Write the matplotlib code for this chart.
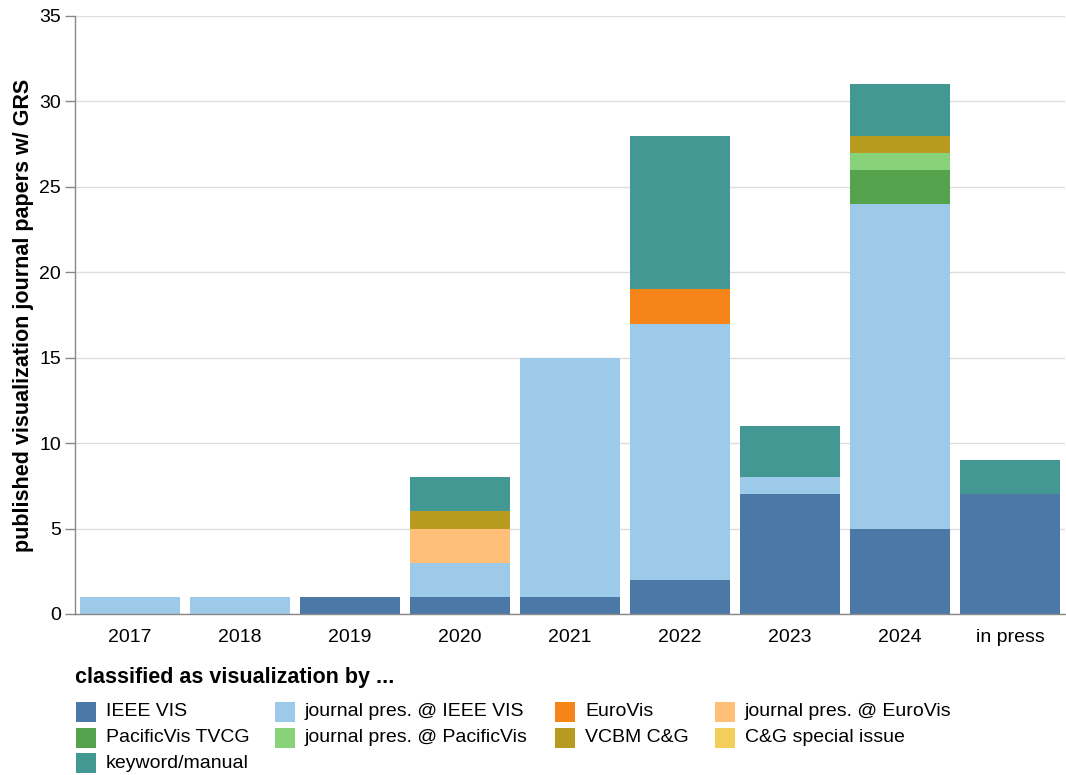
from matplotlib import pyplot as plt
from matplotlib.patches import Rectangle
import numpy as np

plt.rcParams['font.family'] = ['Liberation Sans', 'DejaVu Sans']

years = ['2017', '2018', '2019', '2020', '2021', '2022', '2023', '2024', 'in press']

categories = ['IEEE VIS', 'journal pres. @ IEEE VIS', 'EuroVis',
              'journal pres. @ EuroVis', 'PacificVis TVCG',
              'journal pres. @ PacificVis', 'VCBM C&G', 'C&G special issue',
              'keyword/manual']

ieee_vis = [0, 0, 1, 1, 1, 2, 7, 5, 7]
jp_ieee_vis = [1, 1, 0, 2, 14, 15, 1, 19, 0]
eurovis = [0, 0, 0, 0, 0, 2, 0, 0, 0]
jp_eurovis = [0, 0, 0, 2, 0, 0, 0, 0, 0]
pacificvis_tvcg = [0, 0, 0, 0, 0, 0, 0, 2, 0]
jp_pacificvis = [0, 0, 0, 0, 0, 0, 0, 1, 0]
vcbm_cg = [0, 0, 0, 1, 0, 0, 0, 1, 0]
cg_special = [0, 0, 0, 0, 0, 0, 0, 0, 0]
keyword_manual = [0, 0, 0, 2, 0, 9, 3, 3, 2]

series = [ieee_vis, jp_ieee_vis, eurovis, jp_eurovis, pacificvis_tvcg,
          jp_pacificvis, vcbm_cg, cg_special, keyword_manual]

colors = ['#4c78a8', '#9ecae9', '#f58518', '#ffbf79', '#54a24b',
          '#88d27a', '#b79a20', '#f2cf5b', '#439894']

W, H = 1066, 775


def fx(px):
    return px / W


def fy(py):
    return 1.0 - py / H


fig = plt.figure(figsize=(W / 100, H / 100), dpi=100)
ax = fig.add_axes([fx(75), fy(614), (1065 - 75) / W, (614 - 16) / H])

x = np.arange(len(years))
bottom = np.zeros(len(years))
for vals, col, name in zip(series, colors, categories):
    vals = np.array(vals, dtype=float)
    ax.bar(x, vals, bottom=bottom, width=100 / 110, color=col,
           label=name, zorder=2, linewidth=0)
    bottom += vals

ax.set_xlim(-0.5, len(years) - 0.5)
ax.set_ylim(0, 35)
ax.set_yticks(np.arange(0, 36, 5))
ax.set_xticks(x)
ax.set_xticklabels(years)
ax.grid(axis='y', color='#dddddd', linewidth=1.0, zorder=0)
ax.set_axisbelow(True)

for side in ['top', 'right']:
    ax.spines[side].set_visible(False)
for side in ['left', 'bottom']:
    ax.spines[side].set_color('#888888')
    ax.spines[side].set_linewidth(1.0)
    ax.spines[side].set_zorder(3)

ax.tick_params(axis='y', length=7, width=1.0, color='#888888',
               labelsize=14, pad=3)
ax.tick_params(axis='x', length=0, labelsize=14, pad=11)

ax.set_ylabel('published visualization journal papers w/ GRS',
              fontsize=15.5, fontweight='bold')
ax.yaxis.set_label_coords(-41 / 990, 0.5)

# legend drawn by hand to match the column layout
fig.text(fx(75), fy(677), 'classified as visualization by ...',
         fontsize=15.5, fontweight='bold', ha='left', va='center')
col_x = [76, 275, 555, 715]
row_y = [702, 727.7, 753.4]
for i, (name, col) in enumerate(zip(categories, colors)):
    cx = col_x[i % 4]
    ry = row_y[i // 4]
    fig.add_artist(Rectangle((fx(cx), fy(ry + 20)), 20 / W, 20 / H,
                             transform=fig.transFigure, facecolor=col,
                             edgecolor='none'))
    fig.text(fx(cx + 30), fy(ry + 10), name, fontsize=14,
             ha='left', va='center')

fig.savefig('out.png', dpi=100)
